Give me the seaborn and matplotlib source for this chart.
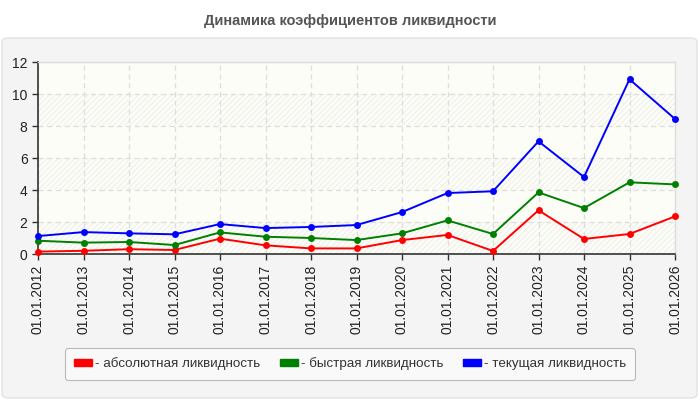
import pandas as pd
import matplotlib
matplotlib.use("Agg")
import matplotlib.pyplot as plt
import seaborn as sns
from matplotlib.patches import FancyBboxPatch, Patch

dates = ["01.01.2012", "01.01.2013", "01.01.2014", "01.01.2015", "01.01.2016",
         "01.01.2017", "01.01.2018", "01.01.2019", "01.01.2020", "01.01.2021",
         "01.01.2022", "01.01.2023", "01.01.2024", "01.01.2025", "01.01.2026"]
absolute = [0.15, 0.2, 0.3, 0.25, 0.96, 0.54, 0.35, 0.35, 0.87, 1.19, 0.19, 2.73, 0.94, 1.25, 2.35]
quick = [0.83, 0.71, 0.75, 0.56, 1.35, 1.08, 1.0, 0.87, 1.29, 2.1, 1.25, 3.85, 2.87, 4.48, 4.35]
current = [1.12, 1.37, 1.29, 1.23, 1.87, 1.62, 1.69, 1.81, 2.62, 3.81, 3.92, 7.04, 4.81, 10.92, 8.44]
names = ["абсолютная ликвидность", "быстрая ликвидность", "текущая ликвидность"]
colors = ["#ff0000", "#008000", "#0000ff"]

df = pd.DataFrame({"date": dates * 3,
                   "value": absolute + quick + current,
                   "series": [names[0]] * 15 + [names[1]] * 15 + [names[2]] * 15})

sns.set_style("white")
plt.rcParams["font.family"] = ["Liberation Sans", "DejaVu Sans"]
plt.rcParams["hatch.linewidth"] = 0.6

fig = plt.figure(figsize=(7, 4), dpi=100)
fig.patch.set_facecolor("white")

# outer light panel
panel = FancyBboxPatch((2 / 700, 2 / 400), 695 / 700, 360 / 400,
                       boxstyle="round,pad=0,rounding_size=0.01",
                       transform=fig.transFigure, facecolor="#f4f4f4",
                       edgecolor="#e2e2e2", linewidth=1, zorder=-10)
fig.patches.append(panel)

fig.text(0.5, 1 - 21 / 400, "Динамика коэффициентов ликвидности", ha="center", va="center",
         fontsize=10.5, fontweight="bold", color="#555555")

ax = fig.add_axes([38 / 700, 1 - 254 / 400, 637 / 700, 192 / 400])
ax.set_facecolor("#fdfdf7")
for lo in range(0, 12, 4):
    ax.axhspan(lo, lo + 2, facecolor="#fdfdf7", edgecolor="#ebebeb", hatch="//////",
               linewidth=0, zorder=0)

sns.lineplot(data=df, x="date", y="value", hue="series", palette=colors, marker="o",
             markersize=5, markeredgewidth=0, linewidth=1.4, ax=ax, legend=False, zorder=3)
for ln in ax.lines:
    ln.set_clip_on(False)

ax.set_xlim(0, 14)
ax.set_ylim(0, 12)
ax.set_yticks(range(0, 13, 2))
ax.set_xlabel("")
ax.set_ylabel("")
ax.grid(True, color="#dddddd", linestyle=(0, (4, 3)), linewidth=0.9)
ax.set_axisbelow(True)
ax.tick_params(axis="x", rotation=90, labelsize=10, length=4, width=1, color="#333333",
               labelcolor="#222222", bottom=True)
ax.tick_params(axis="y", labelsize=10, length=4, width=1, color="#333333",
               labelcolor="#222222", left=True)
for s in ["left", "bottom"]:
    ax.spines[s].set_color("#333333")
    ax.spines[s].set_linewidth(1.2)
for s in ["top", "right"]:
    ax.spines[s].set_color("#dddddd")
    ax.spines[s].set_linewidth(1)

handles = [Patch(facecolor=c, edgecolor=c, label="- " + n) for c, n in zip(colors, names)]
leg = fig.legend(handles=handles, loc="center", bbox_to_anchor=(350 / 700, 1 - 364 / 400),
                 ncol=3, fontsize=9.6, frameon=True, fancybox=True, handlelength=1.35,
                 handleheight=0.45, handletextpad=0.2, columnspacing=1.5,
                 borderpad=0.7, borderaxespad=0, labelcolor="#333333")
leg.get_frame().set_facecolor("#fbfbfb")
leg.get_frame().set_edgecolor("#aaaaaa")
leg.get_frame().set_linewidth(0.8)

fig.savefig("out.png", dpi=100)
